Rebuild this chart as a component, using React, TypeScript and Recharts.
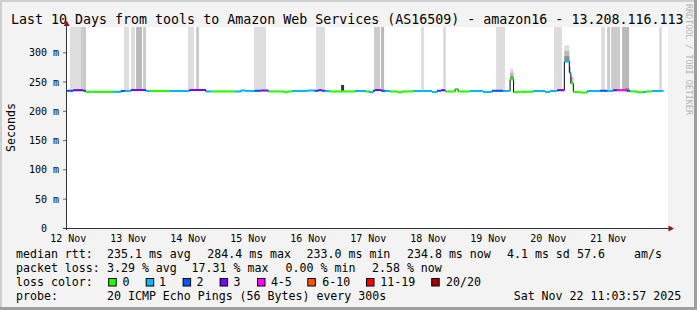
import { ComposedChart, Line, Area, XAxis, YAxis, CartesianGrid } from 'recharts'

// time axis: hours since 12 Nov 00:00
const rangeStart = 11.066 // Wed 12 Nov 11:03:57
const rangeEnd = 251.066 // Sat 22 Nov 11:03:57
const dataEnd = 250

const dayTicks = [12, 36, 60, 84, 108, 132, 156, 180, 204, 228]
const dayLabels = ['12 Nov', '13 Nov', '14 Nov', '15 Nov', '16 Nov', '17 Nov', '18 Nov', '19 Nov', '20 Nov', '21 Nov']
const midnights = [24, 48, 72, 96, 120, 144, 168, 192, 216, 240]
const yTicks = [0, 50, 100, 150, 200, 250, 300]
const yMax = 344

// median rtt as steps: start hour, median (ms), lost pings class
const segStart = [
  11.5, 14, 18, 19, 30, 33, 34.5, 37, 43, 44.5, 52.5, 60.5, 67, 69, 79, 81, 83, 86.5, 89, 92,
  98.5, 99.5, 101.5, 107.5, 110.5, 112, 113.5, 114.7, 116.3, 126.7, 131.1, 132.3, 133.9, 134.7, 137.1, 138.7, 140.7, 143.5, 145.5, 149.9,
  157.5, 159.5, 161.1, 162.7, 166.7, 167.9, 172.7, 177.9, 181.5, 185.9, 188.7, 190.1, 191.9, 197.9, 202.7, 204.7, 207.5, 210.4, 212.4, 213,
  214, 216.7, 219.5, 224.7, 227.5, 229.9, 231.5, 235.5, 236.7, 239.5, 241.9, 243.1, 245.5,
]
const segMedian = [
  235, 236, 235, 233.3, 233.5, 234.5, 234.5, 236.5, 234.5, 234.5, 234.5, 236.5, 234, 234, 234, 235.5, 234.5, 235, 235.5, 234,
  232.5, 234, 234.5, 235.5, 235, 236, 235, 234.5, 234, 234.5, 234, 232.5, 235, 236.5, 235, 234.5, 234, 232.5, 234, 234.5,
  233, 235, 236, 234, 238, 234, 234.5, 233, 235, 234.5, 254.5, 232.5, 233.5, 234.5, 233, 234.5, 236, 285, 266, 247.6,
  233, 232, 234.5, 235, 234.5, 236, 236, 235, 234, 232.5, 233, 234, 234.5,
]
const segLoss = [
  2, 3, 2, 0, 1, 2, 1, 3, 1, 0, 1, 3, 1, 0, 1, 1, 1, 2, 3, 0,
  0, 0, 1, 1, 2, 3, 2, 1, 0, 1, 0, 1, 2, 3, 2, 1, 0, 0, 0, 1,
  1, 2, 3, 0, 0, 0, 1, 1, 2, 1, 0, 0, 0, 1, 1, 1, 3, 1, 1, 0,
  0, 0, 1, 2, 1, 3, 4, 2, 0, 0, 1, 0, 1,
]

// smoke (ping spread): start, end, low, high, density level
const smokeStart = [12.7, 17.1, 34.3, 37.1, 39.1, 41.9, 59.9, 63.1, 86.3, 111.1, 134.3, 137.1, 153.1, 161.9, 183.1, 206.3, 225.1, 227.5, 229.1, 233.5, 248.3,
  188.7, 188.7, 188.7, 210.4, 210.4, 210.4, 212.4, 213, 121.1, 234.7]
const smokeEnd = [17.1, 19.1, 36.3, 38.7, 41.5, 43.1, 62.3, 64.3, 91.1, 114.7, 136.7, 138.3, 154.3, 163.1, 186.7, 209.5, 226.7, 228.7, 232.7, 236.3, 249.5,
  190.1, 190.1, 190.1, 212.4, 212.4, 212.4, 213, 214, 122.3, 236.3]
const smokeLow = [235.5, 235, 234.5, 236.5, 236.5, 236.5, 236, 236.5, 235, 235.5, 236.5, 235, 234.5, 236, 235, 236, 235, 234.5, 236, 236, 234.5,
  254.5, 254.5, 254.5, 285, 285, 285, 266, 247.6, 235, 234]
const smokeHigh = [344, 344, 344, 344, 344, 344, 344, 344, 344, 344, 344, 344, 344, 344, 344, 344, 344, 344, 344, 344, 344,
  273, 266, 260, 313, 303, 294, 276, 259, 245, 240]
const smokeLevel = [1, 2, 1, 1, 3, 2, 1, 2, 1, 1, 2, 3, 1, 1, 1, 1, 1, 2, 2, 3, 1,
  1, 3, 4, 1, 3, 4, 3, 3, 5, 4]

const lossLabels = ['0', '1', '2', '3', '4-5', '6-10', '11-19', '20/20']
const lossColors = ['#26ff00', '#00b8ff', '#0059ff', '#7e00ff', '#ff00ff', '#ff5500', '#ff0000', '#a00000']

const rttStats = ['235.1 ms avg', '284.4 ms max', '233.0 ms min', '234.8 ms now', '4.1 ms sd', '57.6', 'am/s']
const lossStats = ['3.29 % avg', '17.31 % max', '0.00 % min', '2.58 % now']
const probeText = '20 ICMP Echo Pings (56 Bytes) every 300s'
const stamp = 'Sat Nov 22 11:03:57 2025'
const title = 'Last 10 Days from tools to Amazon Web Services (AS16509) - amazon16 - 13.208.116.113'

const smokeShades = ['', '#dddddd', '#cbcbcb', '#b9b9b9', '#8c8c8c', '#333333']
const mono = 'DejaVu Sans Mono'

const segEnd = (i: number) => (i + 1 < segStart.length ? segStart[i + 1] : dataEnd)

const medianSteps = [
  ...segStart.map((t, i) => ({ t, v: segMedian[i] })),
  { t: dataEnd, v: segMedian[segMedian.length - 1] },
]

const lossSeries = lossColors.map((_, c) => {
  const rows: { t: number; v: number | null }[] = []
  segStart.forEach((s, i) => {
    if (segLoss[i] !== c) return
    rows.push({ t: s, v: segMedian[i] }, { t: segEnd(i), v: segMedian[i] }, { t: segEnd(i), v: null })
  })
  return rows
})

const smokeSeries = [1, 2, 3, 4, 5].map((lvl) => {
  const rows: { t: number; r: number[] | null }[] = []
  smokeStart.forEach((s, i) => {
    if (smokeLevel[i] !== lvl) return
    const r = [smokeLow[i], smokeHigh[i]]
    rows.push({ t: s, r }, { t: smokeEnd[i], r }, { t: smokeEnd[i], r: null })
  })
  return { lvl, rows }
})

const range = (from: number, to: number, step: number, skip: number) => {
  const out: number[] = []
  for (let v = from; v <= to; v += step) if (v % skip !== 0) out.push(v)
  return out
}
const yMinor = range(10, 340, 10, 50)
const yMajor = yTicks.filter((v) => v > 0)
const xMinor = range(12, 246, 6, 24)

const YTick = (props: any) => {
  const { x, y, payload } = props
  const v = payload.value
  return (
    <text x={v === 0 ? x - 12 : x} y={y} dy="0.355em" textAnchor="end" fontSize={10} fontFamily={mono} fill="#000">
      {v === 0 ? '0' : `${v} m`}
    </text>
  )
}

// legend layout
const statX1 = [107, 207.3, 306.6, 407, 507, 577, 634]
const statX2 = [107, 191.6, 285.6, 372]
const boxX = [108.2, 145.7, 182.6, 219.6, 257, 307.3, 366, 431.2]
const boxLabelX = [122.6, 158.9, 196.5, 233.5, 270.9, 322.2, 380.3, 446]

export default function App() {
  return (
    <div style={{ position: 'absolute', left: 0, top: 0, width: 697, height: 310, background: '#f3f3f3', overflow: 'hidden' }}>
      <div style={{ position: 'absolute', left: 0, top: 0 }}>
        <ComposedChart width={697} height={310} margin={{ top: 27, right: 31, bottom: 61.6, left: 0 }}>
          <rect x={66} y={27} width={602} height={201.4} fill="#ffffff" />
          <XAxis
            type="number"
            dataKey="t"
            domain={[rangeStart, rangeEnd]}
            allowDataOverflow
            ticks={dayTicks}
            interval={0}
            tickFormatter={(v: number) => dayLabels[dayTicks.indexOf(v)]}
            height={20}
            axisLine={false}
            tickLine={false}
            tickSize={0}
            tickMargin={6}
            tick={{ fontSize: 10, fill: '#000', fontFamily: mono }}
          />
          <YAxis
            type="number"
            domain={[0, yMax]}
            allowDataOverflow
            ticks={yTicks}
            interval={0}
            width={66}
            axisLine={false}
            tickLine={{ stroke: '#666' }}
            tickSize={3}
            tickMargin={4}
            tick={<YTick />}
          />
          {smokeSeries.map(({ lvl, rows }) => (
            <Area
              key={`smoke-${lvl}`}
              data={rows}
              dataKey="r"
              type="linear"
              stroke="none"
              fill={smokeShades[lvl]}
              fillOpacity={1}
              connectNulls={false}
              dot={false}
              activeDot={false}
              isAnimationActive={false}
            />
          ))}
          <CartesianGrid horizontalValues={yMinor} verticalValues={xMinor} stroke="#8f8f8f" strokeOpacity={0.45} strokeDasharray="1 2" />
          <CartesianGrid horizontalValues={yMajor} verticalValues={midnights} stroke="#de5050" strokeOpacity={0.6} strokeDasharray="1 2" />
          <Line data={medianSteps} dataKey="v" type="stepAfter" stroke="#000" strokeWidth={1} dot={false} activeDot={false} isAnimationActive={false} />
          {lossSeries.map((rows, c) => (
            <Line
              key={`loss-${c}`}
              data={rows}
              dataKey="v"
              type="linear"
              stroke={lossColors[c]}
              strokeWidth={2}
              connectNulls={false}
              dot={false}
              activeDot={false}
              isAnimationActive={false}
            />
          ))}
        </ComposedChart>
      </div>
      <svg width={697} height={310} style={{ position: 'absolute', left: 0, top: 0 }} fontFamily={mono}>
        <rect x={0} y={0} width={697} height={2} fill="#cfcfcf" />
        <rect x={0} y={0} width={2} height={310} fill="#cfcfcf" />
        <rect x={694} y={0} width={3} height={310} fill="#9e9e9e" />
        <rect x={0} y={307} width={697} height={3} fill="#9e9e9e" />
        <text x={11} y={23.5} fontSize={13.3} fill="#000">{title}</text>
        <text x={685.5} y={4} fontSize={8.4} fill="#b4b4b4" transform="rotate(90 685.5 4)">RRDTOOL / TOBI OETIKER</text>
        <text x={15} y={127.5} fontSize={11.6} fill="#000" textAnchor="middle" transform="rotate(-90 15 127.5)">Seconds</text>

        <line x1={66.5} y1={230} x2={66.5} y2={25} stroke="#333" strokeWidth={1} />
        <polygon points="63.7,26 66.7,20.5 69.7,26" fill="#8b1a1a" />
        <line x1={63} y1={228.5} x2={669} y2={228.5} stroke="#333" strokeWidth={1} />
        <polygon points="668.5,225.5 674,228.5 668.5,231.5" fill="#8b1a1a" />

        <g fontSize={11.6} fill="#000">
          <text x={16} y={257.5}>median rtt:</text>
          {rttStats.map((s, i) => <text key={s} x={statX1[i]} y={257.5}>{s}</text>)}
          <text x={16} y={271.5}>packet loss:</text>
          {lossStats.map((s, i) => <text key={s} x={statX2[i]} y={271.5}>{s}</text>)}
          <text x={16} y={285.5}>loss color:</text>
          {lossLabels.map((l, i) => (
            <g key={l}>
              <rect x={boxX[i] + 0.5} y={278.5} width={7.5} height={7.5} fill={lossColors[i]} stroke="#000" strokeWidth={1} />
              <text x={boxLabelX[i]} y={285.5}>{l}</text>
            </g>
          ))}
          <text x={16} y={299.5}>probe:</text>
          <text x={107} y={299.5}>{probeText}</text>
          <text x={513.7} y={299.5}>{stamp}</text>
        </g>
      </svg>
    </div>
  )
}
